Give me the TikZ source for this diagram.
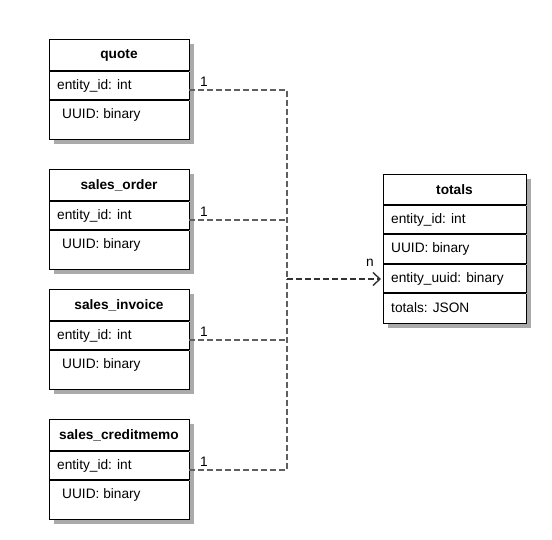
\documentclass[tikz,border=0pt]{standalone}
\usepackage{fontspec}
\setmainfont{Liberation Sans}
\usetikzlibrary{arrows.meta}
\definecolor{shadowc}{RGB}{170,170,170}
\definecolor{edgec}{RGB}{95,95,95}
\definecolor{edgedark}{RGB}{50,50,50}
\tikzset{
  boxframe/.style={draw=black, line width=1.4pt, fill=white, anchor=north west, inner sep=0pt},
  sepline/.style={draw=black, line width=1.2pt},
  shadowsep/.style={draw=shadowc, line width=0.8pt},
  ttl/.style={font=\fontsize{13.7}{16}\selectfont\bfseries, inner sep=0pt},
  fld/.style={font=\fontsize{13.7}{16}\selectfont, anchor=west, inner sep=0pt},
  mult/.style={font=\fontsize{13.7}{16}\selectfont, inner sep=0pt},
  rel/.style={draw=edgec, line width=1.1pt, dash pattern=on 6pt off 3pt},
  reltip/.style={draw=edgedark, line width=1.2pt, solid, -{Straight Barb[length=7pt,width=13pt,line width=1.4pt]}},
}
% left table: #1 name, #2 top y, #3 title
\newcommand{\lefttable}[3]{%
  \fill[shadowc] (54,#2+5) rectangle (194,#2+105);
  \node[boxframe, minimum width=140pt, minimum height=100pt] (#1) at (49,#2) {};
  \draw[sepline] (49,#2+32) -- (189,#2+32);
  \draw[sepline] (49,#2+61) -- (189,#2+61);
  \draw[shadowsep] (189,#2+32) -- (194,#2+32);
  \draw[shadowsep] (189,#2+61) -- (194,#2+61);
  \node[ttl] (#1-t) at (119,#2+16.5) {#3};
  \node[fld] (#1-a) at (57,#2+46.5) {entity\_id: int};
  \node[fld] (#1-b) at (62,#2+76) {UUID: binary};
  \coordinate (#1-p) at (189,#2+51);
  \node[mult] (#1-m) at (204,#2+43) {1};
}
\begin{document}
\begin{tikzpicture}[x=1pt,y=-1pt]
\useasboundingbox (0,0) rectangle (552,540);
\lefttable{quote}{39}{quote}
\lefttable{order}{169}{sales\_order}
\lefttable{invoice}{289}{sales\_invoice}
\lefttable{memo}{419}{sales\_creditmemo}

% totals table
\fill[shadowc] (388,179) rectangle (531,328);
\node[boxframe, minimum width=143pt, minimum height=149pt] (totals) at (383,174) {};
\foreach \yy in {205,234,264,293}{
  \draw[sepline] (383,\yy) -- (526,\yy);
  \draw[shadowsep] (526,\yy) -- (531,\yy);
}
\node[ttl] (totals-t) at (454.5,189.5) {totals};
\node[fld] (totals-a) at (391,219.5) {entity\_id: int};
\node[fld] (totals-b) at (391,249) {UUID: binary};
\node[fld] (totals-c) at (391,278.5) {entity\_uuid: binary};
\node[fld] (totals-d) at (391,308) {totals: JSON};
\coordinate (totals-p) at (381,279);
\coordinate (totals-q) at (379,279);
\node[mult] (n) at (370,263) {n};

\coordinate (j) at (287,279);
\draw[rel] (quote-p) -| (j);
\draw[rel] (memo-p) -| (j);
\draw[rel] (order-p) -- (order-p -| j);
\draw[rel] (invoice-p) -- (invoice-p -| j);
\draw[rel, draw=edgedark] (j) -- (totals-q);
\draw[reltip] (totals-q) -- (totals-p);
\end{tikzpicture}
\end{document}
